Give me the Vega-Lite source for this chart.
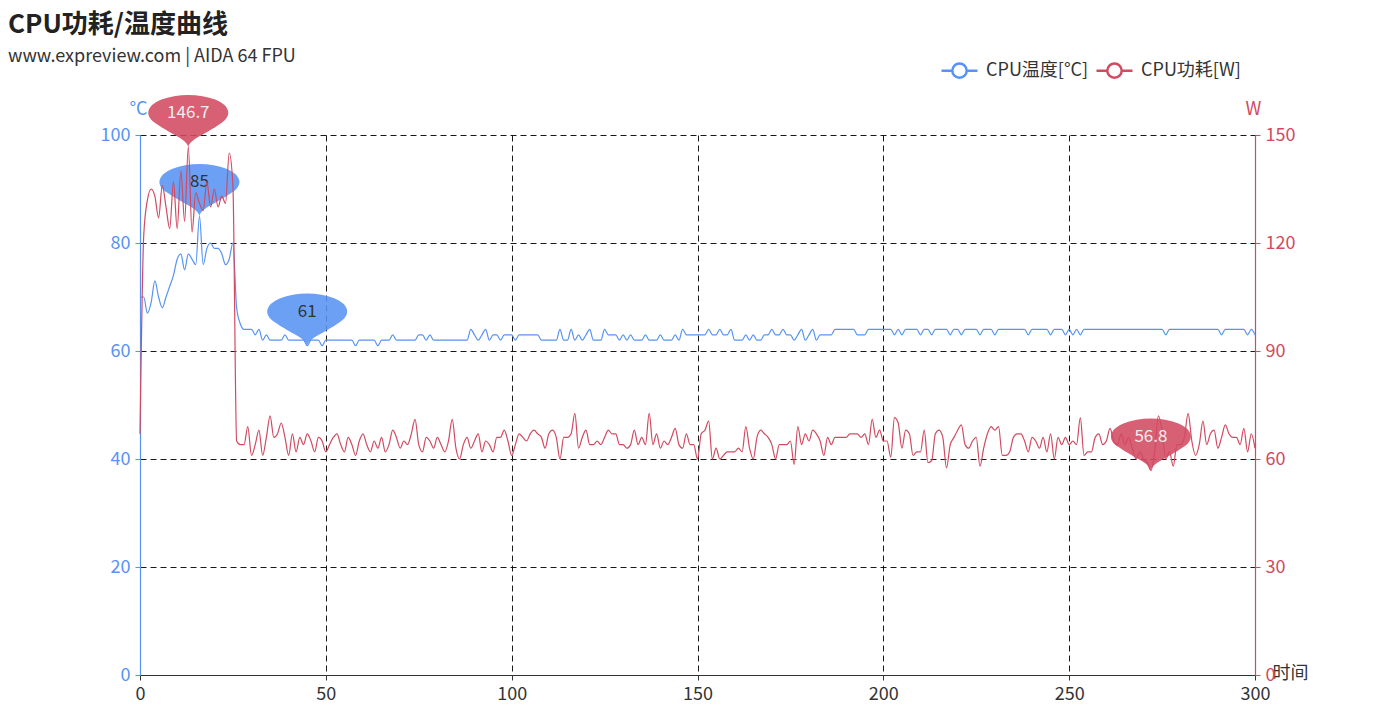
{
"$schema": "https://vega.github.io/schema/vega-lite/v6.json",
"width": 1115, "height": 540,
"autosize": {"type": "none"},
"padding": {"left": 140, "top": 135, "right": 138, "bottom": 45},
"background": "white",
"title": {"text": "CPU功耗/温度曲线", "subtitle": "www.expreview.com | AIDA 64 FPU", "anchor": "start", "frame": "group", "dx": -132, "offset": -9, "font": "Noto Sans CJK SC", "fontSize": 26, "fontWeight": "bold", "color": "#222", "subtitleFont": "Noto Sans CJK SC", "subtitleFontSize": 18, "subtitleColor": "#333", "subtitlePadding": 10},
"config": {
  "view": {"stroke": null},
  "font": "Noto Sans CJK SC",
  "axis": {"labelFont": "Noto Sans CJK SC", "labelFontSize": 18, "labelFlush": false, "labelOverlap": false, "titleFont": "Noto Sans CJK SC", "titleFontSize": 18, "titleFontWeight": "normal", "tickSize": 5, "labelPadding": 5, "gridColor": "#000", "gridDash": [6, 4], "gridOpacity": 0.9, "domainWidth": 1.2}
},
"datasets": {
"main": [
{"t":0,"temp":70,"power":67},{"t":1,"temp":70,"power":122},{"t":2,"temp":67,"power":132},{"t":3,"temp":69,"power":135},{"t":4,"temp":73,"power":133},{"t":5,"temp":70,"power":127},{"t":6,"temp":68,"power":136},{"t":7,"temp":70,"power":130},{"t":8,"temp":72,"power":124},{"t":9,"temp":74,"power":137},
{"t":10,"temp":77,"power":124},{"t":11,"temp":78,"power":140},{"t":12,"temp":75,"power":126},{"t":13,"temp":78,"power":146.7},{"t":14,"temp":77,"power":123},{"t":15,"temp":76,"power":134},{"t":16,"temp":85,"power":131},{"t":17,"temp":76,"power":129},{"t":18,"temp":79,"power":137},{"t":19,"temp":80,"power":130},
{"t":20,"temp":79,"power":135},{"t":21,"temp":79,"power":130},{"t":22,"temp":78,"power":133},{"t":23,"temp":76,"power":131},{"t":24,"temp":77,"power":145},{"t":25,"temp":80,"power":136},{"t":26,"temp":68,"power":65},{"t":27,"temp":65,"power":64},{"t":28,"temp":64,"power":64},{"t":29,"temp":64,"power":69},
{"t":30,"temp":64,"power":61},{"t":31,"temp":63,"power":64},{"t":32,"temp":64,"power":68},{"t":33,"temp":62,"power":61},{"t":34,"temp":63,"power":66},{"t":35,"temp":62,"power":72},{"t":36,"temp":62,"power":66},{"t":37,"temp":62,"power":67},{"t":38,"temp":62,"power":70},{"t":39,"temp":63,"power":66},
{"t":40,"temp":62,"power":61},{"t":41,"temp":62,"power":67},{"t":42,"temp":62,"power":62},{"t":43,"temp":62,"power":66},{"t":44,"temp":62,"power":64},{"t":45,"temp":61,"power":67},{"t":46,"temp":62,"power":65},{"t":47,"temp":62,"power":62},{"t":48,"temp":62,"power":66},{"t":49,"temp":61,"power":65},
{"t":50,"temp":62,"power":62},{"t":51,"temp":62,"power":64},{"t":52,"temp":62,"power":66},{"t":53,"temp":62,"power":67},{"t":54,"temp":62,"power":64},{"t":55,"temp":62,"power":62},{"t":56,"temp":62,"power":66},{"t":57,"temp":62,"power":64},{"t":58,"temp":61,"power":61},{"t":59,"temp":62,"power":65},
{"t":60,"temp":62,"power":67},{"t":61,"temp":62,"power":64},{"t":62,"temp":62,"power":62},{"t":63,"temp":62,"power":65},{"t":64,"temp":61,"power":63},{"t":65,"temp":62,"power":66},{"t":66,"temp":62,"power":62},{"t":67,"temp":62,"power":64},{"t":68,"temp":63,"power":68},{"t":69,"temp":62,"power":66},
{"t":70,"temp":62,"power":63},{"t":71,"temp":62,"power":65},{"t":72,"temp":62,"power":64},{"t":73,"temp":62,"power":67},{"t":74,"temp":62,"power":71},{"t":75,"temp":63,"power":64},{"t":76,"temp":63,"power":62},{"t":77,"temp":62,"power":66},{"t":78,"temp":63,"power":65},{"t":79,"temp":62,"power":63},
{"t":80,"temp":62,"power":66},{"t":81,"temp":62,"power":64},{"t":82,"temp":62,"power":62},{"t":83,"temp":62,"power":65},{"t":84,"temp":62,"power":71},{"t":85,"temp":62,"power":63},{"t":86,"temp":62,"power":60},{"t":87,"temp":62,"power":64},{"t":88,"temp":62,"power":66},{"t":89,"temp":64,"power":63},
{"t":90,"temp":63,"power":65},{"t":91,"temp":62,"power":67},{"t":92,"temp":63,"power":62},{"t":93,"temp":64,"power":65},{"t":94,"temp":62,"power":64},{"t":95,"temp":63,"power":62},{"t":96,"temp":63,"power":66},{"t":97,"temp":62,"power":66},{"t":98,"temp":63,"power":68},{"t":99,"temp":63,"power":65},
{"t":100,"temp":63,"power":61},{"t":101,"temp":62,"power":64},{"t":102,"temp":63,"power":67},{"t":103,"temp":63,"power":66},{"t":104,"temp":63,"power":65},{"t":105,"temp":63,"power":67},{"t":106,"temp":63,"power":68},{"t":107,"temp":63,"power":67},{"t":108,"temp":62,"power":66},{"t":109,"temp":62,"power":63},
{"t":110,"temp":62,"power":67},{"t":111,"temp":62,"power":68},{"t":112,"temp":62,"power":66},{"t":113,"temp":64,"power":60},{"t":114,"temp":62,"power":66},{"t":115,"temp":62,"power":66},{"t":116,"temp":64,"power":67},{"t":117,"temp":62,"power":72.7},{"t":118,"temp":63,"power":63},{"t":119,"temp":62,"power":66},
{"t":120,"temp":63,"power":68},{"t":121,"temp":64,"power":64},{"t":122,"temp":62,"power":64},{"t":123,"temp":62,"power":65},{"t":124,"temp":62,"power":64},{"t":125,"temp":64,"power":66},{"t":126,"temp":63,"power":68},{"t":127,"temp":63,"power":67},{"t":128,"temp":63,"power":67},{"t":129,"temp":62,"power":64},
{"t":130,"temp":63,"power":64},{"t":131,"temp":62,"power":63},{"t":132,"temp":63,"power":64},{"t":133,"temp":62,"power":68},{"t":134,"temp":62,"power":64},{"t":135,"temp":62,"power":66},{"t":136,"temp":63,"power":64},{"t":137,"temp":62,"power":72.7},{"t":138,"temp":62,"power":64},{"t":139,"temp":62,"power":67},
{"t":140,"temp":63,"power":63},{"t":141,"temp":62,"power":65},{"t":142,"temp":62,"power":64},{"t":143,"temp":62,"power":66},{"t":144,"temp":63,"power":68.5},{"t":145,"temp":62,"power":64},{"t":146,"temp":64,"power":63},{"t":147,"temp":63,"power":67},{"t":148,"temp":63,"power":64},{"t":149,"temp":63,"power":64},
{"t":150,"temp":63,"power":60},{"t":151,"temp":63,"power":67},{"t":152,"temp":63,"power":68},{"t":153,"temp":64,"power":70.5},{"t":154,"temp":63,"power":60},{"t":155,"temp":63,"power":63},{"t":156,"temp":64,"power":60},{"t":157,"temp":63,"power":61},{"t":158,"temp":63,"power":62},{"t":159,"temp":64,"power":62},
{"t":160,"temp":62,"power":62},{"t":161,"temp":62,"power":63},{"t":162,"temp":62,"power":62},{"t":163,"temp":63,"power":69},{"t":164,"temp":62,"power":63},{"t":165,"temp":63,"power":60},{"t":166,"temp":62,"power":66},{"t":167,"temp":62,"power":68},{"t":168,"temp":63,"power":67},{"t":169,"temp":63,"power":66},
{"t":170,"temp":64,"power":64},{"t":171,"temp":63,"power":60},{"t":172,"temp":63,"power":64},{"t":173,"temp":64,"power":64},{"t":174,"temp":63,"power":64},{"t":175,"temp":63,"power":65},{"t":176,"temp":62,"power":58.5},{"t":177,"temp":63,"power":69},{"t":178,"temp":64,"power":64},{"t":179,"temp":62,"power":67},
{"t":180,"temp":63,"power":65},{"t":181,"temp":64,"power":68},{"t":182,"temp":62,"power":67},{"t":183,"temp":63,"power":65},{"t":184,"temp":63,"power":61},{"t":185,"temp":63,"power":66},{"t":186,"temp":63,"power":64},{"t":187,"temp":64,"power":66},{"t":188,"temp":64,"power":66},{"t":189,"temp":64,"power":66},
{"t":190,"temp":64,"power":66},{"t":191,"temp":64,"power":67},{"t":192,"temp":64,"power":67},{"t":193,"temp":63,"power":67},{"t":194,"temp":63,"power":66},{"t":195,"temp":63,"power":67},{"t":196,"temp":64,"power":64},{"t":197,"temp":64,"power":71},{"t":198,"temp":64,"power":66},{"t":199,"temp":64,"power":68},
{"t":200,"temp":64,"power":65},{"t":201,"temp":64,"power":65},{"t":202,"temp":64,"power":60.5},{"t":203,"temp":63,"power":71.5},{"t":204,"temp":64,"power":70},{"t":205,"temp":63,"power":63},{"t":206,"temp":64,"power":68},{"t":207,"temp":64,"power":67},{"t":208,"temp":64,"power":61},{"t":209,"temp":64,"power":62},
{"t":210,"temp":63,"power":62},{"t":211,"temp":64,"power":68},{"t":212,"temp":64,"power":59},{"t":213,"temp":63,"power":59.5},{"t":214,"temp":64,"power":67},{"t":215,"temp":64,"power":68},{"t":216,"temp":64,"power":66},{"t":217,"temp":64,"power":57.5},{"t":218,"temp":63,"power":64},{"t":219,"temp":64,"power":66},
{"t":220,"temp":64,"power":68},{"t":221,"temp":63,"power":69.5},{"t":222,"temp":64,"power":64},{"t":223,"temp":64,"power":63},{"t":224,"temp":64,"power":65},{"t":225,"temp":64,"power":66},{"t":226,"temp":63,"power":58},{"t":227,"temp":64,"power":63},{"t":228,"temp":64,"power":67},{"t":229,"temp":64,"power":69},
{"t":230,"temp":63,"power":68},{"t":231,"temp":64,"power":69},{"t":232,"temp":64,"power":61},{"t":233,"temp":64,"power":61},{"t":234,"temp":64,"power":62},{"t":235,"temp":64,"power":66},{"t":236,"temp":64,"power":67},{"t":237,"temp":64,"power":67},{"t":238,"temp":64,"power":65},{"t":239,"temp":63,"power":62},
{"t":240,"temp":64,"power":66},{"t":241,"temp":64,"power":65},{"t":242,"temp":64,"power":63},{"t":243,"temp":64,"power":66},{"t":244,"temp":64,"power":62},{"t":245,"temp":63,"power":67},{"t":246,"temp":64,"power":60},{"t":247,"temp":64,"power":66},{"t":248,"temp":64,"power":64},{"t":249,"temp":63,"power":66},
{"t":250,"temp":64,"power":64},{"t":251,"temp":63,"power":65},{"t":252,"temp":64,"power":64},{"t":253,"temp":63,"power":71.5},{"t":254,"temp":64,"power":61},{"t":255,"temp":64,"power":62},{"t":256,"temp":64,"power":62},{"t":257,"temp":64,"power":66},{"t":258,"temp":64,"power":67},{"t":259,"temp":64,"power":64},
{"t":260,"temp":64,"power":65},{"t":261,"temp":64,"power":68.5},{"t":262,"temp":64,"power":65},{"t":263,"temp":64,"power":64},{"t":264,"temp":64,"power":67},{"t":265,"temp":64,"power":64},{"t":266,"temp":64,"power":66},{"t":267,"temp":64,"power":63},{"t":268,"temp":64,"power":60},{"t":269,"temp":64,"power":62},
{"t":270,"temp":64,"power":60},{"t":271,"temp":64,"power":59},{"t":272,"temp":64,"power":56.8},{"t":273,"temp":64,"power":62},{"t":274,"temp":64,"power":72},{"t":275,"temp":64,"power":68},{"t":276,"temp":63,"power":60},{"t":277,"temp":64,"power":62},{"t":278,"temp":64,"power":58},{"t":279,"temp":64,"power":64},
{"t":280,"temp":64,"power":64},{"t":281,"temp":64,"power":66},{"t":282,"temp":64,"power":72.7},{"t":283,"temp":64,"power":65},{"t":284,"temp":64,"power":61},{"t":285,"temp":64,"power":64},{"t":286,"temp":64,"power":70.5},{"t":287,"temp":64,"power":64},{"t":288,"temp":64,"power":67},{"t":289,"temp":64,"power":68},
{"t":290,"temp":64,"power":63},{"t":291,"temp":63,"power":66},{"t":292,"temp":64,"power":69.5},{"t":293,"temp":64,"power":67},{"t":294,"temp":64,"power":66},{"t":295,"temp":64,"power":66},{"t":296,"temp":64,"power":64},{"t":297,"temp":64,"power":68.5},{"t":298,"temp":63,"power":62},{"t":299,"temp":64,"power":67},
{"t":300,"temp":63,"power":63}
],
"tpin": [{"t":16,"temp":85,"label":"85"},{"t":45,"temp":61,"label":"61"}],
"wpin": [{"t":13,"power":146.7,"label":"146.7"},{"t":272,"power":56.8,"label":"56.8"}]
},
"encoding": {
  "x": {"field": "t", "type": "quantitative", "scale": {"domain": [0, 300], "nice": false},
        "axis": {"values": [0, 50, 100, 150, 200, 250, 300], "grid": true, "domainColor": "#333", "tickColor": "#333", "labelColor": "#333", "title": "时间", "titleColor": "#333", "titleX": 1132, "titleY": -2, "titleAlign": "left", "titleBaseline": "middle", "titleAngle": 0}}
},
"layer": [
  {
    "encoding": {
      "y": {"field": "temp", "type": "quantitative", "scale": {"domain": [0, 100], "nice": false},
            "axis": {"orient": "left", "values": [0, 20, 40, 60, 80, 100], "grid": true, "title": "°C", "titleAngle": 0, "titleX": -2, "titleY": -17, "titleAlign": "center", "titleBaseline": "bottom", "domainColor": "#5793f3", "tickColor": "#5793f3", "labelColor": "#5793f3", "titleColor": "#5793f3"}}
    },
    "layer": [
      {"data": {"name": "main"}, "mark": {"type": "line", "interpolate": "monotone", "strokeWidth": 1.2},
       "encoding": {"color": {"datum": "CPU温度[°C]", "type": "nominal",
          "scale": {"domain": ["CPU温度[°C]", "CPU功耗[W]"], "range": ["#5793f3", "#d14a61"]},
          "legend": {"orient": "none", "legendX": 806, "legendY": -78, "direction": "horizontal", "title": null,
                     "symbolType": "M-1.5,0 L-0.6,0 M0.6,0 L1.5,0 M-0.6,0 A0.6,0.6 0 1,1 0.6,0 A0.6,0.6 0 1,1 -0.6,0",
                     "symbolSize": 576, "symbolStrokeWidth": 2.5, "symbolFillColor": "white",
                     "labelFont": "Noto Sans CJK SC", "labelFontSize": 18, "labelColor": "#333", "labelOffset": 13, "columnPadding": 2}}}},
      {"data": {"name": "tpin"}, "mark": {"type": "point", "shape": "M0,0 C-0.05,-0.2 -0.4,-0.3 -0.8,-0.58 A1,0.45 0 1,1 0.8,-0.58 C0.4,-0.3 0.05,-0.2 0,0 Z", "size": 6400, "filled": true, "color": "#5793f3", "opacity": 0.88, "strokeWidth": 0}},
      {"data": {"name": "tpin"}, "mark": {"type": "text", "dy": -34, "fontSize": 17, "color": "#333", "font": "Noto Sans CJK SC"}, "encoding": {"text": {"field": "label"}}}
    ]
  },
  {
    "encoding": {
      "y": {"field": "power", "type": "quantitative", "scale": {"domain": [0, 150], "nice": false},
            "axis": {"orient": "right", "values": [0, 30, 60, 90, 120, 150], "grid": false, "title": "W", "titleAngle": 0, "titleX": -2, "titleY": -17, "titleAlign": "center", "titleBaseline": "bottom", "domainColor": "#d14a61", "tickColor": "#d14a61", "labelColor": "#d14a61", "titleColor": "#d14a61"}}
    },
    "layer": [
      {"data": {"name": "main"}, "mark": {"type": "line", "interpolate": "monotone", "strokeWidth": 1.2},
       "encoding": {"color": {"datum": "CPU功耗[W]", "type": "nominal"}}},
      {"data": {"name": "wpin"}, "mark": {"type": "point", "shape": "M0,0 C-0.05,-0.2 -0.4,-0.3 -0.8,-0.58 A1,0.45 0 1,1 0.8,-0.58 C0.4,-0.3 0.05,-0.2 0,0 Z", "size": 6400, "filled": true, "color": "#d14a61", "opacity": 0.88, "strokeWidth": 0}},
      {"data": {"name": "wpin"}, "mark": {"type": "text", "dy": -34, "fontSize": 17, "color": "#eeeeee", "font": "Noto Sans CJK SC"}, "encoding": {"text": {"field": "label"}}}
    ]
  }
],
"resolve": {"scale": {"y": "independent"}, "axis": {"y": "independent"}}
}
